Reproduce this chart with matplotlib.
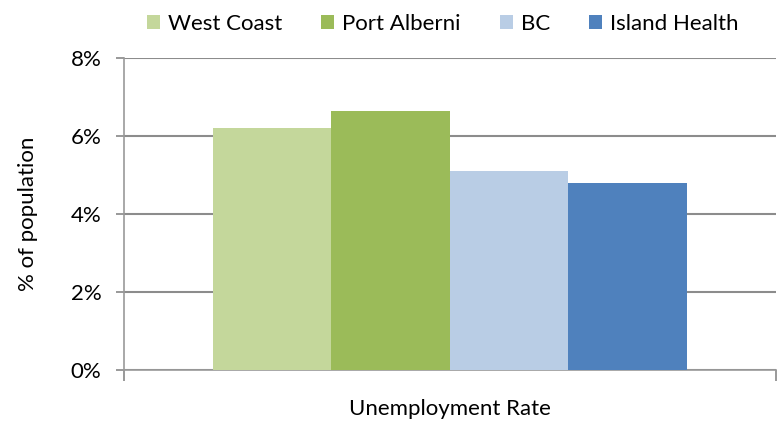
import matplotlib
matplotlib.use("Agg")
import matplotlib.pyplot as plt
import numpy as np

series = ["West Coast", "Port Alberni", "BC", "Island Health"]
values = [6.2, 6.65, 5.1, 4.8]
colors = ["#c4d79b", "#9bbb59", "#b9cde5", "#4f81bd"]
category = "Unemployment Rate"
yticks = [0, 2, 4, 6, 8]

plt.rcParams['font.family'] = ['Lato', 'DejaVu Sans']
FS = 16
fig = plt.figure(figsize=(7.78, 4.23), dpi=100)
ax = fig.add_axes([0.159, 0.125, 0.838, 0.738])

bw = 118.5 / 652
n = len(series)
offs = (np.arange(n) - (n - 1) / 2) * bw
for o, v, c, s in zip(offs, values, colors, series):
    ax.bar(0.5 + o, v, width=bw, color=c, label=s, zorder=3)

ax.set_xlim(0, 1)
ax.set_ylim(0, 8)
ax.set_yticks(yticks)
ax.set_yticklabels([f"{t}%" for t in yticks], fontsize=FS)
ax.set_xticks([0, 1])
ax.set_xticklabels([])
ax.tick_params(axis='x', length=8, width=1.2, color="#888888", direction='out')
ax.tick_params(axis='y', length=6, width=1.2, color="#888888", direction='out', pad=10)
ax.grid(axis='y', color="#8c8c8c", linewidth=1.5, zorder=0)
for sp in ['top', 'right']:
    ax.spines[sp].set_visible(False)
for sp in ['left', 'bottom']:
    ax.spines[sp].set_color("#999999")
    ax.spines[sp].set_linewidth(1.2)

ax.set_xlabel(category, fontsize=FS)
ax.xaxis.set_label_coords(0.5, -0.092)
ax.set_ylabel("% of population", fontsize=FS)
ax.yaxis.set_label_coords(-0.132, 0.5)

fig.legend(*ax.get_legend_handles_labels(), loc='center', bbox_to_anchor=(0.569, 0.943),
           ncol=4, frameon=False, fontsize=FS, handlelength=0.6, handleheight=0.6,
           handletextpad=0.35, columnspacing=1.75)

fig.savefig("out.png", dpi=100)
